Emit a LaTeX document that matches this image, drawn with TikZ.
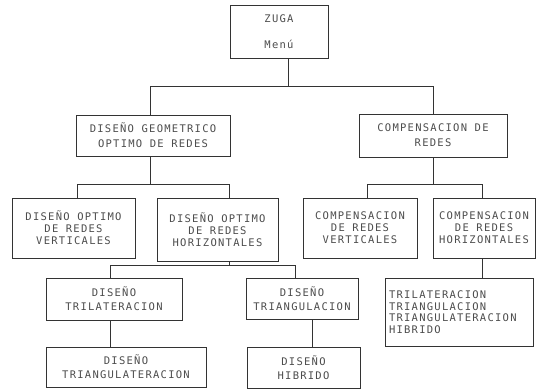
\documentclass[tikz,border=0pt]{standalone}
\usepackage{fontspec}
\newfontfamily\dotfont[LetterSpace=12]{DejaVu Sans Mono}
\begin{document}
\begin{tikzpicture}[x=1pt,y=-1pt,
  box/.style={draw=black!80, line width=0.8pt, inner sep=0pt, align=center,
    text=black!70, font=\dotfont\fontsize{10.5}{12}\selectfont},
  bs15/.style={font=\dotfont\fontsize{10.5}{15}\selectfont},
  bs14/.style={font=\dotfont\fontsize{10.5}{14}\selectfont},
  bs26/.style={font=\dotfont\fontsize{10.5}{26}\selectfont},
  bs11/.style={font=\dotfont\fontsize{10.5}{11.5}\selectfont},
  link/.style={draw=black!80, line width=0.8pt}]
\useasboundingbox (0,0) rectangle (537,389);
\node[box,bs26,minimum width=98pt,minimum height=53pt] (zuga) at (279,31.5) {ZUGA\\Menú};
\node[box,bs15,minimum width=154pt,minimum height=41pt] (geo) at (153,135.5) {DISEÑO GEOMETRICO\\OPTIMO DE REDES};
\node[box,bs15,minimum width=148pt,minimum height=43pt] (comp) at (433,135.5) {COMPENSACION DE\\REDES};
\node[box,minimum width=123pt,minimum height=60pt] (dv) at (73.5,228) {DISEÑO OPTIMO\\DE REDES\\VERTICALES};
\node[box,minimum width=121pt,minimum height=63pt] (dh) at (217.5,229.5) {DISEÑO OPTIMO\\DE REDES\\HORIZONTALES};
\node[box,minimum width=114pt,minimum height=60pt] (cv) at (360,228) {COMPENSACION\\DE REDES\\VERTICALES};
\node[box,minimum width=102pt,minimum height=60pt] (ch) at (484,228) {COMPENSACION\\DE REDES\\HORIZONTALES};
\node[box,bs14,minimum width=136pt,minimum height=42pt] (tril) at (114,299) {DISEÑO\\TRILATERACION};
\node[box,bs14,minimum width=112pt,minimum height=41pt] (tria) at (302,298.5) {DISEÑO\\TRIANGULACION};
\node[box,bs14,minimum width=160pt,minimum height=40pt] (tlat) at (126,367) {DISEÑO\\TRIANGULATERACION};
\node[box,bs14,minimum width=113pt,minimum height=41pt] (hib) at (303.5,367.5) {DISEÑO\\HIBRIDO};
\node[box,bs11,align=left,minimum width=148pt,minimum height=68pt,text width=140pt] (list) at (459,312) {TRILATERACION\\TRIANGULACION\\TRIANGULATERACION\\HIBRIDO};
% connectors
\coordinate (j1) at (288,86);
\draw[link] (zuga.south -| j1) -- (j1);
\draw[link] (j1) -| ([xshift=-3pt]geo.north);
\draw[link] (j1) -| (comp.north);
\coordinate (j2) at (150,184);
\draw[link] (geo.south -| j2) -- (j2);
\draw[link] (j2) -| ([xshift=3.5pt]dv.north);
\draw[link] (j2) -| ([xshift=11.5pt]dh.north);
\coordinate (j3) at (433,184);
\draw[link] (comp.south) -- (j3);
\draw[link] (j3) -| ([xshift=7pt]cv.north);
\draw[link] (j3) -| ([xshift=-2pt]ch.north);
\coordinate (j4) at (229,265);
\draw[link] (dh.south -| j4) -- (j4);
\draw[link] (j4) -| ([xshift=-4pt]tril.north);
\draw[link] (j4) -| ([xshift=-7pt]tria.north);
\coordinate (k1) at ([xshift=-4pt]tril.south);
\coordinate (k2) at ([xshift=10pt]tria.south);
\coordinate (k3) at ([xshift=-2pt]ch.south);
\draw[link] (k1) -- (tlat.north -| k1);
\draw[link] (k2) -- (hib.north -| k2);
\draw[link] (k3) -- (list.north -| k3);
\end{tikzpicture}
\end{document}
